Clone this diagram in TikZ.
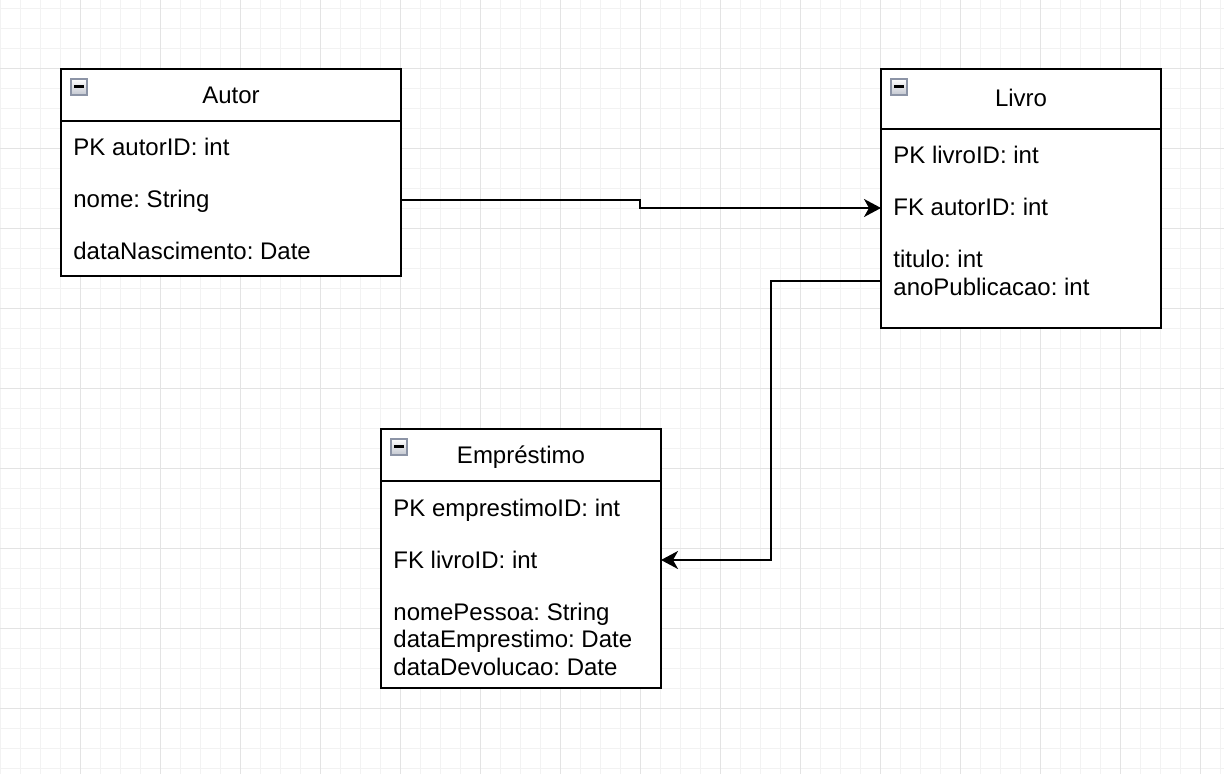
\documentclass[tikz,border=0pt]{standalone}
\usepackage{fontspec}
\setmainfont{Liberation Sans}
\usetikzlibrary{arrows.meta}
\definecolor{gridminor}{HTML}{F2F2F2}
\definecolor{gridmajor}{HTML}{E3E3E3}
\definecolor{iconborder}{HTML}{8C94A6}
\definecolor{iconbottom}{HTML}{C3C7D0}
\frenchspacing
\begin{document}
\frenchspacing
\begin{tikzpicture}[x=0.5pt,y=-0.5pt,
  every node/.style={font=\fontsize{12}{13.8}\selectfont\frenchspacing},
  box/.style={draw=black, line width=1pt, fill=white, anchor=north west, inner sep=0pt, outer sep=0pt},
  rowtxt/.style={anchor=base west, inner sep=0pt, text height=8pt, text depth=0pt},
  titletxt/.style={anchor=base, inner sep=0pt},
  icon/.style={draw=iconborder, line width=1pt, top color=white, bottom color=iconbottom, minimum size=8pt, inner sep=0pt},
  sep/.style={line width=1pt},
  arr/.style={line width=1pt, -{Stealth[length=8.5pt, width=9pt, inset=2.5pt]}}
]
\useasboundingbox (0,0) rectangle (1224,774);
\fill[white] (0,0) rectangle (1224,774);
% grid
\foreach \x in {0.5,20.5,...,1220.5} \draw[gridminor, line width=0.6pt] (\x,0) -- (\x,774);
\foreach \y in {8.5,28.5,...,768.5} \draw[gridminor, line width=0.6pt] (0,\y) -- (1224,\y);
\foreach \x in {80.5,160.5,...,1200.5} \draw[gridmajor, line width=0.6pt] (\x,0) -- (\x,774);
\foreach \y in {68.5,148.5,...,708.5} \draw[gridmajor, line width=0.6pt] (0,\y) -- (1224,\y);

% Autor
\node[box, minimum width=170pt, minimum height=103.5pt] (autor) at (61,69) {};
\draw[sep] (61,121) -- (401,121);
\node[icon] (autorIcon) at (78.7,87) {};
\draw[line width=1.2pt] (74,86.5) -- (84,86.5);
\node[titletxt] (autorT) at (231,104) {Autor};
\node[rowtxt] (aPK) at (73,156) {PK autorID: int};
\node[rowtxt] (aNome) at (73,208) {nome: String};
\node[rowtxt] (aData) at (73,260) {dataNascimento: Date};

% Livro
\node[box, minimum width=140pt, minimum height=129.5pt] (livro) at (881,69) {};
\draw[sep] (881,129) -- (1161,129);
\node[icon] (livroIcon) at (898.7,87) {};
\draw[line width=1.2pt] (894,86.5) -- (904,86.5);
\node[titletxt] (livroT) at (1021,107) {Livro};
\node[rowtxt] (lPK) at (893,164) {PK livroID: int};
\node[rowtxt] (lFK) at (893,216) {FK autorID: int};
\node[rowtxt] (lTit) at (893,268) {titulo: int};
\node[rowtxt] (lAno) at (893,295.6) {anoPublicacao: int};
\coordinate (livroOut) at (881,281);

% Emprestimo
\node[box, minimum width=140pt, minimum height=129.5pt] (emp) at (381,429) {};
\draw[sep] (381,481) -- (661,481);
\node[icon] (empIcon) at (398.7,447) {};
\draw[line width=1.2pt] (394,446.5) -- (404,446.5);
\node[titletxt] (empT) at (521,463) {Empréstimo};
\node[rowtxt] (ePK) at (393,516) {PK emprestimoID: int};
\node[rowtxt] (eFK) at (393,568) {FK livroID: int};
\node[rowtxt] (eNome) at (393,620) {nomePessoa: String};
\node[rowtxt] (eDataE) at (393,647.6) {dataEmprestimo: Date};
\node[rowtxt] (eDataD) at (393,675.2) {dataDevolucao: Date};

% connectors
\draw[arr] (autor.east |- aNome) -- (640,200) -- (640,208) -- (livro.west |- lFK);
\draw[arr] (livroOut) -- (771,281) -- (771,560) -- (emp.east |- eFK);
\end{tikzpicture}
\end{document}
